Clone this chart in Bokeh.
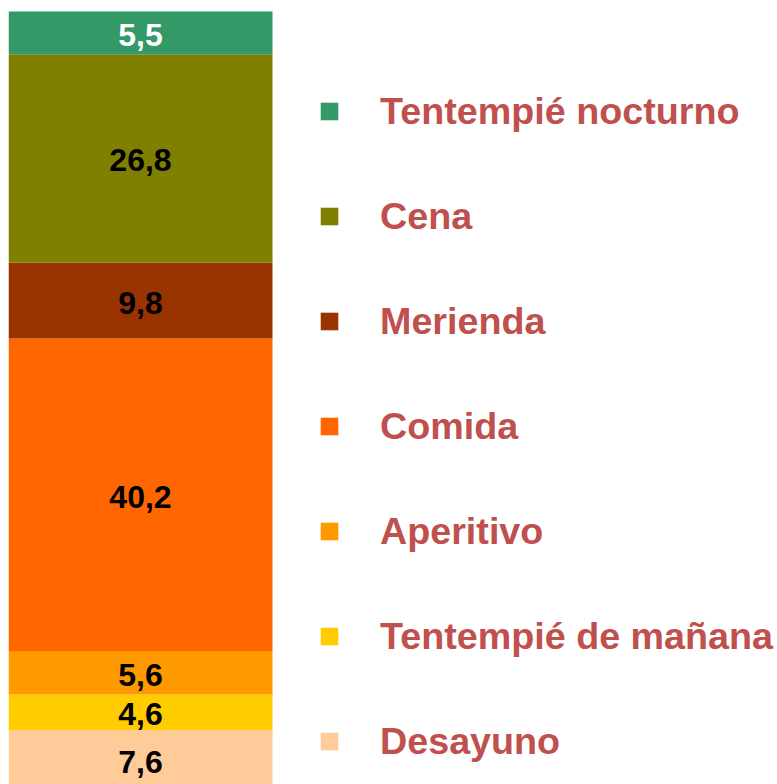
from bokeh.plotting import figure
from bokeh.models import ColumnDataSource, Range1d, Legend, LegendItem
from bokeh.core.properties import value
from bokeh.embed import file_html
from bokeh.resources import INLINE

# Data (bottom to top)
categories = ["Desayuno", "Tentempié de mañana", "Aperitivo", "Comida",
              "Merienda", "Cena", "Tentempié nocturno"]
values = [7.6, 4.6, 5.6, 40.2, 9.8, 26.8, 5.5]
colors = ["#FFCC99", "#FFCC00", "#FF9900", "#FF6600",
          "#993300", "#808000", "#339966"]
label_colors = ["black", "black", "black", "black", "black", "black", "white"]

bottoms, tops = [], []
acc = 0.0
for v in values:
    bottoms.append(acc)
    acc += v
    tops.append(acc)
mids = [(b + t) / 2 for b, t in zip(bottoms, tops)]
labels = [f"{v:.1f}".replace(".", ",") for v in values]

src = ColumnDataSource(dict(x=[0] * len(values), bottom=bottoms, top=tops, mid=mids,
                            color=colors, label=labels, lcolor=label_colors, cat=categories))

total = tops[-1]
px_per_unit = 7.77
frame_h = 776
frame_w = 769
bar_w_px = 264
y_end = total + 3 / px_per_unit
y_start = y_end - frame_h / px_per_unit

p = figure(width=frame_w + 8, height=frame_h + 8, output_backend="svg", toolbar_location=None,
           x_range=Range1d(-0.5, -0.5 + frame_w / bar_w_px),
           y_range=Range1d(y_start, y_end),
           min_border=0, min_border_left=8, min_border_right=0,
           min_border_top=8, min_border_bottom=0)
p.axis.visible = False
p.grid.visible = False
p.outline_line_color = None
p.background_fill_color = "white"
p.border_fill_color = "white"

renderers = []
for i in range(len(values)):
    r = p.vbar(x=[0], width=1, bottom=[bottoms[i]], top=[tops[i]],
               fill_color=colors[i], line_color=None)
    renderers.append(r)

p.text(x="x", y="mid", text="label", source=src, text_color="lcolor",
       text_font=value("Liberation Sans"), text_font_style="bold",
       text_font_size="32px", text_align="center", text_baseline="middle",
       y_offset=2)

# Legend entries top to bottom
items = []
for i in reversed(range(len(values))):
    items.append(LegendItem(label=categories[i], renderers=[renderers[i]]))

legend = Legend(items=items, location=(310, 13), orientation="vertical",
                glyph_width=22, glyph_height=22, label_standoff=40,
                label_height=60, spacing=45, padding=0, margin=0,
                border_line_color=None, background_fill_alpha=0,
                label_text_font="Liberation Sans", label_text_font_style="bold",
                label_text_font_size="37.7px", label_text_color="#C0504D")
p.add_layout(legend, "center")

open("out.html", "w").write(file_html(p, INLINE))
